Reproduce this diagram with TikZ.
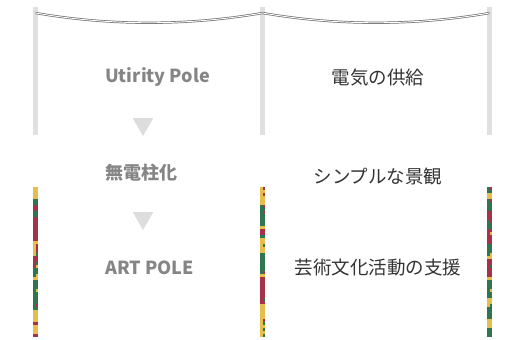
\documentclass[tikz,border=0pt]{standalone}
\usepackage{fontspec}
\setmainfont{Noto Sans CJK JP}
\usetikzlibrary{positioning,shapes.geometric}
\definecolor{PoleGrey}{HTML}{E0E0E0}
\definecolor{WireGrey}{HTML}{6E6E6E}
\definecolor{ArrowGrey}{HTML}{DDDDDD}
\definecolor{HeadGrey}{HTML}{858585}
\definecolor{BodyText}{HTML}{333333}
\definecolor{ArtYellow}{HTML}{E6BE4C}
\definecolor{ArtRed}{HTML}{A6314A}
\definecolor{ArtGreen}{HTML}{2E7650}
\tikzset{
  art1/.style={fill=ArtYellow},
  art2/.style={fill=ArtRed},
  art3/.style={fill=ArtGreen},
  wire/.style={draw=WireGrey,double=white,double distance=0.9pt,line width=0.7pt},
  head/.style={font=\fontsize{18}{21}\selectfont\bfseries,text=HeadGrey,anchor=west,inner sep=0pt},
  merit/.style={font=\fontsize{18.5}{22}\selectfont,text=BodyText,inner sep=0pt},
  down/.style={regular polygon,regular polygon sides=3,shape border rotate=180,
    fill=ArrowGrey,inner sep=0pt,minimum size=24pt},
}
% striped lower half of a pole, #1 = left edge
\newcommand{\artpole}[1]{%
  \gdef\lastcol{1}%
  \foreach \k in {0,...,49}{%
    \pgfmathtruncatemacro\col{rnd<0.35 ? random(1,3) : \lastcol}%
    \xdef\lastcol{\col}%
    \pgfmathtruncatemacro\side{rnd<0.25 ? random(1,3) : \col}%
    \fill[art\col] (#1,187+3*\k) rectangle ++(5,3);
    \fill[art\side] (#1+3,187+3*\k) rectangle ++(2,3);
  }}

\begin{document}
\begin{tikzpicture}[x=1pt,y=-1pt]
  \useasboundingbox (0,0) rectangle (509,340);
  \pgfmathsetseed{7}
  % poles
  \foreach \x/\n in {33/a,260/b,487/c}{
    \fill[PoleGrey] (\x,7) rectangle (\x+5,135);
    \coordinate (top\n) at (\x+2.5,13);
  }
  \artpole{33}
  \artpole{260}
  \artpole{487}
  % wires
  \draw[wire] (topa) .. controls +(75,13) and +(-75,13) .. (topb);
  \draw[wire] (topb) .. controls +(75,13) and +(-75,13) .. (topc);
  % left column
  \node[head] (util) at (105,77) {Utirity Pole};
  \node[down] (arrow1) at (143,124) {};
  \node[head] (nopole) at (105,173) {無電柱化};
  \node[down] (arrow2) at (143,218) {};
  \node[head] (art) at (105,268) {ART POLE};
  % right column
  \node[merit] (power) at (378,78) {電気の供給};
  \node[merit] (view) at (378,176) {シンプルな景観};
  \node[merit] (culture) at (378,268) {芸術文化活動の支援};
\end{tikzpicture}
\end{document}
